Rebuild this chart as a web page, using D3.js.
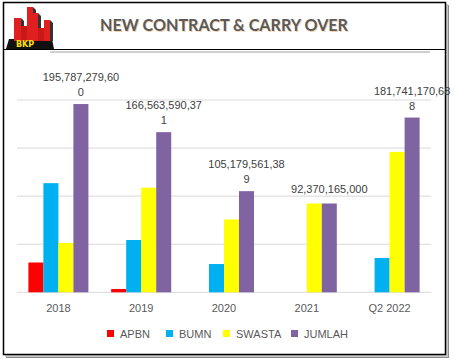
<!DOCTYPE html>
<html><head><meta charset="utf-8">
<script src="https://cdn.jsdelivr.net/npm/d3@7/dist/d3.min.js"></script>
<style>body{margin:0;background:#fff;} svg{display:block;font-family:"Liberation Sans",Arial,sans-serif;}</style>
</head><body>
<script>
const categories = ["2018", "2019", "2020", "2021", "Q2 2022"];
const seriesNames = ["APBN", "BUMN", "SWASTA", "JUMLAH"];
const apbn   = [31.0, 3.4, 0, 0, 0];
const bumn   = [113.5, 54.4, 29.4, 0, 35.7];
const swasta = [51.3, 108.8, 75.8, 92.37, 146.0];
const jumlah = [195.787279600, 166.563590371, 105.179561389, 92.370165000, 181.741170688];
const jumlahLabels = ["195,787,279,600", "166,563,590,371", "105,179,561,389", "92,370,165,000", "181,741,170,688"];
const yTicks = [0, 50, 100, 150, 200];
const colors = ["#FF0000", "#00B0F0", "#FFFF00", "#8064A2"];
const title = "NEW CONTRACT & CARRY OVER";

const W = 455, H = 363;
const svg = d3.select("body").append("svg").attr("width", W).attr("height", H);

// frame with shadow
svg.append("rect").attr("x", 6).attr("y", 5).attr("width", 443).attr("height", 353).attr("fill", "#8a8a8a");
svg.append("rect").attr("x", 5).attr("y", 4).attr("width", 443).attr("height", 353).attr("fill", "#c8c8c8");
svg.append("rect").attr("x", 3.5).attr("y", 2.5).attr("width", 442).attr("height", 352)
  .attr("fill", "#fff").attr("stroke", "#000").attr("stroke-width", 1.5);

// header line
svg.append("line").attr("x1", 3).attr("x2", 445).attr("y1", 49.5).attr("y2", 49.5).attr("stroke", "#000").attr("stroke-width", 1);
svg.append("line").attr("x1", 50).attr("x2", 430).attr("y1", 52).attr("y2", 52).attr("stroke", "#d0d0d0").attr("stroke-width", 2);

// logo
const logo = svg.append("g");
logo.append("polygon").attr("points", "9,39 52,39 54,49 6,49").attr("fill", "#111");
const blds = [[14,18,7],[27,7,6],[33,13,5],[44,20,6]];
blds.forEach(b => {
  logo.append("rect").attr("x", b[0]).attr("y", b[1]).attr("width", b[2]).attr("height", 41 - b[1]).attr("fill", "#e02020");
  logo.append("polygon").attr("points", `${b[0]+b[2]},${b[1]} ${b[0]+b[2]+3},${b[1]+3} ${b[0]+b[2]+3},41 ${b[0]+b[2]},41`).attr("fill", "#333");
});
logo.append("rect").attr("x", 21).attr("y", 26).attr("width", 6).attr("height", 15).attr("fill", "#c81818");
logo.append("rect").attr("x", 38).attr("y", 28).attr("width", 6).attr("height", 13).attr("fill", "#c81818");
logo.append("text").attr("x", 25).attr("y", 47).attr("text-anchor", "middle")
  .attr("font-family", "DejaVu Sans").attr("font-weight", "bold").attr("font-size", 8).attr("fill", "#FFE000").text("BKP");

// title
[["#f0c090", 1, 0.7], ["#5a5a5a", 0, 1]].forEach(([c, off, op]) => {
  svg.append("text").attr("x", 224 + off).attr("y", 31 + off).attr("text-anchor", "middle")
    .attr("font-family", "Lato, 'Open Sans', sans-serif").attr("font-weight", "bold").attr("font-size", 17.5)
    .attr("textLength", 248).attr("lengthAdjust", "spacingAndGlyphs")
    .attr("fill", c).attr("opacity", op).text(title);
});

// chart
const pLeft = 17, pRight = 431, pTop = 100, pBottom = 292.3;
const x0 = d3.scaleBand().domain(categories).range([pLeft, pRight]).paddingInner(0.275).paddingOuter(0.1375);
const x1 = d3.scaleBand().domain(seriesNames).range([0, x0.bandwidth()]);
const y = d3.scaleLinear().domain([0, 200]).range([pBottom, pTop]);

svg.append("g").selectAll("line").data(yTicks).join("line")
  .attr("x1", pLeft).attr("x2", pRight).attr("y1", d => y(d)).attr("y2", d => y(d))
  .attr("stroke", "#d9d9d9").attr("stroke-width", 1);

const series = [apbn, bumn, swasta, jumlah];
series.forEach((vals, si) => {
  svg.append("g").selectAll("rect").data(vals).join("rect")
    .attr("x", (d, i) => x0(categories[i]) + x1(seriesNames[si]))
    .attr("width", x1.bandwidth())
    .attr("y", d => y(d)).attr("height", d => y(0) - y(d))
    .attr("fill", colors[si]);
});

// data labels on JUMLAH
jumlah.forEach((v, i) => {
  const lbl = jumlahLabels[i];
  const cx = x0(categories[i]) + x1("JUMLAH") + x1.bandwidth() / 2;
  const t = svg.append("text").attr("text-anchor", "middle").attr("font-size", 11).attr("fill", "#404040");
  if (lbl.length > 14) {
    t.append("tspan").attr("x", cx).attr("y", y(v) - 23).text(lbl.slice(0, 14));
    t.append("tspan").attr("x", cx).attr("y", y(v) - 8).text(lbl.slice(14));
  } else {
    t.append("tspan").attr("x", cx).attr("y", y(v) - 10).text(lbl);
  }
});

// category axis
svg.append("g").selectAll("text").data(categories).join("text")
  .attr("x", d => x0(d) + x0.bandwidth() / 2).attr("y", 312).attr("text-anchor", "middle")
  .attr("font-size", 11).attr("fill", "#595959").text(d => d);

// legend
const legX = [107, 166, 223, 291];
const leg = svg.append("g").selectAll("g").data(seriesNames).join("g")
  .attr("transform", (d, i) => `translate(${legX[i]},330)`);
leg.append("rect").attr("width", 7).attr("height", 7).attr("fill", (d, i) => colors[i]);
leg.append("text").attr("x", 13).attr("y", 7.5).attr("font-size", 11).attr("fill", "#595959").text(d => d);
</script>
</body></html>
